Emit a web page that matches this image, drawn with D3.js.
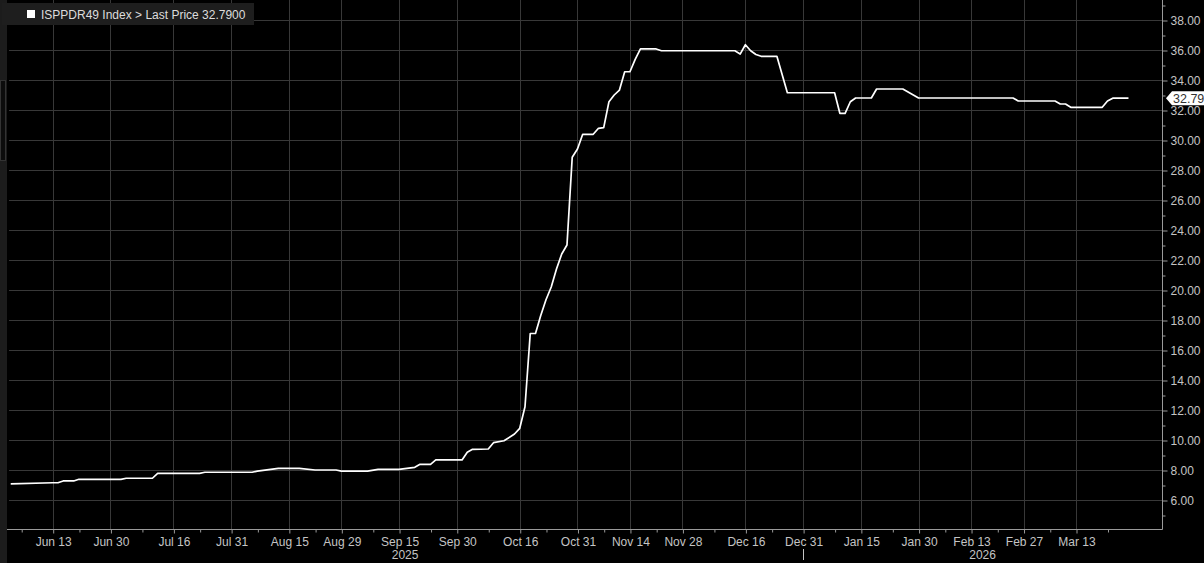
<!DOCTYPE html>
<html>
<head>
<meta charset="utf-8">
<script src="https://cdn.jsdelivr.net/npm/d3@7"></script>
<style>
  html, body { margin: 0; padding: 0; background: #000; overflow: hidden; }
  text { font-family: "Liberation Sans", Arial, sans-serif; }
</style>
</head>
<body>
<div id="chart"></div>
<script>
// price history (dates on a weekday axis, like the terminal chart)
var priceDates = [
  "2025-06-03", "2025-06-13", "2025-06-16", "2025-06-17", "2025-06-19", "2025-06-20",
  "2025-07-02", "2025-07-03", "2025-07-10", "2025-07-11", "2025-07-23", "2025-07-24",
  "2025-08-06", "2025-08-07", "2025-08-13", "2025-08-19", "2025-08-22", "2025-08-28",
  "2025-08-29", "2025-09-05", "2025-09-09", "2025-09-15", "2025-09-18", "2025-09-19",
  "2025-09-23", "2025-09-24", "2025-10-01", "2025-10-02", "2025-10-03", "2025-10-08",
  "2025-10-09", "2025-10-13", "2025-10-15", "2025-10-16", "2025-10-17", "2025-10-20",
  "2025-10-21", "2025-10-22", "2025-10-23", "2025-10-24", "2025-10-27", "2025-10-28",
  "2025-10-29", "2025-10-30", "2025-10-31", "2025-11-03", "2025-11-05", "2025-11-06",
  "2025-11-07", "2025-11-10", "2025-11-11", "2025-11-12", "2025-11-13", "2025-11-14",
  "2025-11-17", "2025-11-18", "2025-11-21", "2025-11-24", "2025-12-12", "2025-12-15",
  "2025-12-16", "2025-12-17", "2025-12-18", "2025-12-19", "2025-12-24", "2025-12-26",
  "2026-01-08", "2026-01-09", "2026-01-12", "2026-01-13", "2026-01-14", "2026-01-19",
  "2026-01-20", "2026-01-27", "2026-01-30", "2026-02-25", "2026-02-26", "2026-03-09",
  "2026-03-10", "2026-03-11", "2026-03-12", "2026-03-20", "2026-03-23", "2026-03-24",
  "2026-03-27"
];
var priceValues = [
  7.07, 7.15, 7.15, 7.27, 7.27, 7.38,
  7.38, 7.45, 7.45, 7.78, 7.78, 7.85,
  7.85, 7.93, 8.11, 8.11, 8.00, 8.00,
  7.93, 7.93, 8.04, 8.04, 8.18, 8.38,
  8.38, 8.67, 8.67, 9.18, 9.38, 9.40,
  9.82, 9.95, 10.40, 10.78, 12.22, 17.10,
  17.10, 18.30, 19.35, 20.20, 21.40, 22.40,
  23.00, 28.85, 29.40, 30.38, 30.38, 30.78,
  30.82, 32.55, 33.00, 33.33, 34.55, 34.55,
  35.38, 36.07, 36.07, 35.95, 35.95, 35.73,
  36.35, 35.95, 35.70, 35.58, 35.58, 33.15,
  33.15, 31.78, 31.78, 32.55, 32.80, 32.80,
  33.40, 33.40, 32.80, 32.80, 32.60, 32.60,
  32.40, 32.40, 32.18, 32.18, 32.60, 32.79,
  32.79
];
var lastPrice = 32.79;
var legendLabel = "ISPPDR49 Index > Last Price 32.7900";

// axis ticks
var yTicks = [6, 8, 10, 12, 14, 16, 18, 20, 22, 24, 26, 28, 30, 32, 34, 36, 38];
var yMinorTicks = [5, 7, 9, 11, 13, 15, 17, 19, 21, 23, 25, 27, 29, 31, 33, 35, 37, 39];
var xTickDates = ["2025-06-13", "2025-06-30", "2025-07-16", "2025-07-31", "2025-08-15",
  "2025-08-29", "2025-09-15", "2025-09-30", "2025-10-16", "2025-10-31", "2025-11-14",
  "2025-11-28", "2025-12-16", "2025-12-31", "2026-01-15", "2026-01-30", "2026-02-13",
  "2026-02-27", "2026-03-13"];
var xTickLabels = ["Jun 13", "Jun 30", "Jul 16", "Jul 31", "Aug 15", "Aug 29", "Sep 15",
  "Sep 30", "Oct 16", "Oct 31", "Nov 14", "Nov 28", "Dec 16", "Dec 31", "Jan 15",
  "Jan 30", "Feb 13", "Feb 27", "Mar 13"];
var xMinorDates = ["2025-06-05", "2025-06-20", "2025-07-08", "2025-07-23", "2025-08-07",
  "2025-08-22", "2025-09-08", "2025-09-23", "2025-10-08", "2025-10-23", "2025-11-07",
  "2025-11-21", "2025-12-08", "2025-12-23", "2026-01-08", "2026-01-23", "2026-02-06",
  "2026-02-20", "2026-03-06", "2026-03-23"];
var yearLabels = ["2025", "2026"];
var yearBreak = "2025-12-31";

var svgWidth = 1204;
var svgHeight = 563;
var plot = { left: 7, right: 1162, top: 0, bottom: 529 };

var parse = d3.utcParse("%Y-%m-%d");
var refDay = parse("2025-06-13"); // a Friday

// count weekdays from the reference Friday (weekends collapse)
function weekdayIndex(s) {
  var days = Math.round((parse(s) - refDay) / 864e5);
  var weeks = Math.floor(days / 7);
  var rem = days - weeks * 7;
  return weeks * 5 + [0, 0, 0, 1, 2, 3, 4][rem];
}

var svg = d3.select("#chart").append("svg")
  .attr("width", svgWidth)
  .attr("height", svgHeight)
  .style("display", "block")
  .style("background", "#000");

var x = d3.scaleLinear()
  .domain([weekdayIndex("2025-06-13"), weekdayIndex("2026-03-13")])
  .range([52.7, 1076]);

var y = d3.scaleLinear()
  .domain([6, 38])
  .range([500, 20]);

function crisp(v) { return Math.round(v) + 0.5; }

// left strip
svg.append("rect").attr("x", 0).attr("y", 0).attr("width", 7).attr("height", svgHeight)
  .attr("fill", "#1c1c1c");
svg.append("rect").attr("x", 0.5).attr("y", 80.5).attr("width", 5).attr("height", 80)
  .attr("fill", "#0c0c0c").attr("stroke", "#333");

// grid
var grid = svg.append("g");
grid.selectAll("line.h").data(yTicks).enter().append("line")
  .attr("x1", 9).attr("x2", plot.right)
  .attr("y1", d => crisp(y(d))).attr("y2", d => crisp(y(d)))
  .attr("stroke", "#383838").attr("stroke-width", 1);
grid.selectAll("line.v").data(xTickDates).enter().append("line")
  .attr("x1", d => crisp(x(weekdayIndex(d)))).attr("x2", d => crisp(x(weekdayIndex(d))))
  .attr("y1", 0).attr("y2", plot.bottom)
  .attr("stroke", "#383838").attr("stroke-width", 1);

// right axis
var yAxis = d3.axisRight(y).tickValues(yTicks).tickFormat(d3.format(".2f"))
  .tickSize(5).tickPadding(3);
var yAxisG = svg.append("g")
  .attr("transform", `translate(${plot.right + 0.5},0.5)`)
  .call(yAxis);
yAxisG.select(".domain").remove();
yAxisG.selectAll("line").attr("stroke", "#9a9a9a");
yAxisG.selectAll("text").attr("fill", "#c4c4c4").style("font-size", "12px")
  .style("font-family", "'Liberation Sans', Arial, sans-serif");

var yMinor = d3.axisRight(y).tickValues(yMinorTicks).tickFormat("").tickSize(3);
var yMinorG = svg.append("g")
  .attr("transform", `translate(${plot.right + 0.5},0.5)`)
  .call(yMinor);
yMinorG.select(".domain").remove();
yMinorG.selectAll("line").attr("stroke", "#9a9a9a");

svg.append("line")
  .attr("x1", plot.right + 0.5).attr("x2", plot.right + 0.5)
  .attr("y1", 0).attr("y2", plot.bottom + 0.5)
  .attr("stroke", "#9a9a9a");

// bottom axis
var xAxis = d3.axisBottom(x)
  .tickValues(xTickDates.map(weekdayIndex))
  .tickFormat((d, i) => xTickLabels[i])
  .tickSize(4).tickPadding(4);
var xAxisG = svg.append("g")
  .attr("transform", `translate(0.5,${plot.bottom + 0.5})`)
  .call(xAxis);
xAxisG.select(".domain").remove();
xAxisG.selectAll("line").attr("stroke", "#9a9a9a");
xAxisG.selectAll("text").attr("fill", "#c4c4c4").style("font-size", "12px")
  .style("font-family", "'Liberation Sans', Arial, sans-serif");

var xMinor = d3.axisBottom(x).tickValues(xMinorDates.map(weekdayIndex)).tickFormat("").tickSize(3);
var xMinorG = svg.append("g")
  .attr("transform", `translate(0.5,${plot.bottom + 0.5})`)
  .call(xMinor);
xMinorG.select(".domain").remove();
xMinorG.selectAll("line").attr("stroke", "#9a9a9a");

svg.append("line")
  .attr("x1", plot.left).attr("x2", plot.right + 0.5)
  .attr("y1", plot.bottom + 0.5).attr("y2", plot.bottom + 0.5)
  .attr("stroke", "#9a9a9a");

// year labels, centred on each year's span
var breakX = x(weekdayIndex(yearBreak));
svg.append("line")
  .attr("x1", crisp(breakX)).attr("x2", crisp(breakX))
  .attr("y1", 549).attr("y2", 560)
  .attr("stroke", "#c4c4c4");
var yearCentres = [(plot.left + breakX) / 2, (breakX + plot.right) / 2];
svg.selectAll("text.year").data(yearLabels).enter().append("text")
  .attr("class", "year")
  .attr("x", (d, i) => yearCentres[i])
  .attr("y", 559)
  .attr("text-anchor", "middle")
  .attr("fill", "#c4c4c4")
  .style("font-size", "12px")
  .text(d => d);

// price line
var series = priceDates.map((d, i) => ({ idx: weekdayIndex(d), value: priceValues[i] }));
var line = d3.line()
  .x(d => x(d.idx))
  .y(d => y(d.value));

svg.append("path")
  .datum(series)
  .attr("d", line)
  .attr("fill", "none")
  .attr("stroke", "#ffffff")
  .attr("stroke-width", 1.7)
  .attr("stroke-linejoin", "round");

// last price tag
var ly = y(lastPrice);
svg.append("path")
  .attr("d", `M${plot.right + 4},${ly} L${plot.right + 10},${ly - 7} L${svgWidth},${ly - 7} L${svgWidth},${ly + 7} L${plot.right + 10},${ly + 7} Z`)
  .attr("fill", "#ffffff");
svg.append("text")
  .attr("x", plot.right + 11)
  .attr("y", ly + 4.5)
  .attr("fill", "#333")
  .style("font-size", "12.5px")
  .text(lastPrice.toFixed(2));

// legend
var legend = svg.append("g");
legend.append("rect")
  .attr("x", 2).attr("y", 3).attr("width", 252).attr("height", 22)
  .attr("fill", "#1e1e1e");
legend.append("rect")
  .attr("x", 27).attr("y", 10).attr("width", 8).attr("height", 8)
  .attr("fill", "#ffffff");
legend.append("text")
  .attr("x", 41).attr("y", 18.5)
  .attr("fill", "#dcdcdc")
  .style("font-size", "12px")
  .text(legendLabel);
</script>
</body>
</html>
